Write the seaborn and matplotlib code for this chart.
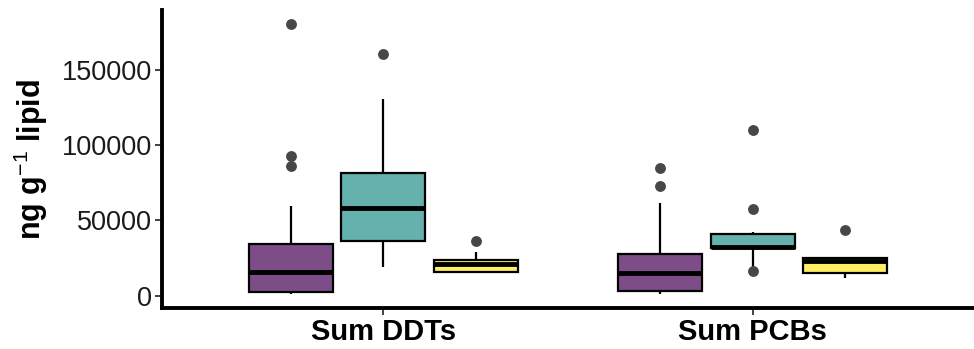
import matplotlib
matplotlib.use("Agg")
import matplotlib.pyplot as plt
import seaborn as sns
import pandas as pd
from matplotlib.ticker import FixedLocator, FuncFormatter

# ---- data ----
categories = ["Sum DDTs", "Sum PCBs"]
groups = ["A", "B", "C"]
colors = ["#7C4D87", "#64B1AE", "#FEEE66"]

ddt_a = [1100, 1500, 1900, 2200, 2400, 5200, 9800, 13000, 16100, 21000, 26500,
         30800, 34200, 59800, 86300, 92900, 180000]
ddt_b = [19000, 26000, 31500, 36400, 44000, 51000, 58500, 66000, 74000, 81600,
         102000, 130200, 160200]
ddt_c = [15000, 15400, 15800, 16100, 17500, 19300, 21000, 22000, 23000, 23800,
         26000, 29300, 36600]
pcb_a = [1300, 1800, 2400, 2900, 3300, 6500, 9800, 12800, 15400, 18500, 21600,
         24800, 27600, 38000, 61400, 72800, 84700]
pcb_b = [16600, 17500, 26000, 31500, 31800, 32100, 32400, 35000, 38500, 41000,
         42600, 57800, 109900]
pcb_c = [12100, 13500, 15000, 19000, 23200, 24200, 25000, 25400, 43700]

y_ticks = [0, 50000, 100000, 150000]
y_label = r"ng g$^{-1}$ lipid"

series = {
    ("Sum DDTs", "A"): ddt_a, ("Sum DDTs", "B"): ddt_b, ("Sum DDTs", "C"): ddt_c,
    ("Sum PCBs", "A"): pcb_a, ("Sum PCBs", "B"): pcb_b, ("Sum PCBs", "C"): pcb_c,
}
rows = []
for (cat, grp), vals in series.items():
    for v in vals:
        rows.append({"category": cat, "group": grp, "value": v})
df = pd.DataFrame(rows)

# ---- style ----
sns.set_theme(style="white")
plt.rcParams["font.family"] = ["Liberation Sans", "DejaVu Sans"]
plt.rcParams["mathtext.fontset"] = "custom"
plt.rcParams["mathtext.rm"] = "Liberation Sans"
plt.rcParams["mathtext.bf"] = "Liberation Sans:bold"

fig = plt.figure(figsize=(9.74, 3.49), dpi=100)
ax = fig.add_axes([162 / 974, 41 / 349, 1 - 162 / 974, 298 / 349])

sns.boxplot(
    data=df, x="category", y="value", hue="group",
    order=categories, hue_order=groups, palette=colors,
    width=0.75, gap=0.09, linewidth=1.6, linecolor="black",
    saturation=1, ax=ax, legend=False,
    medianprops=dict(linewidth=3.5, color="black"),
    flierprops=dict(marker="o", markersize=6.8, markerfacecolor="#474747",
                    markeredgecolor="#474747"),
    whiskerprops=dict(linewidth=1.6), capprops=dict(linewidth=0),
)

ax.set_xlim(-0.6, 1.6)
ax.set_ylim(-8000, 189500)
ax.yaxis.set_major_locator(FixedLocator(y_ticks))
ax.yaxis.set_major_formatter(FuncFormatter(lambda v, p: f"{int(v)}"))

for s in ["top", "right"]:
    ax.spines[s].set_visible(False)
for s in ["left", "bottom"]:
    ax.spines[s].set_linewidth(2.8)
    ax.spines[s].set_color("black")

ax.tick_params(axis="y", length=5, width=1.3, color="#333333", labelsize=19.5,
               labelcolor="#1a1a1a", pad=2, left=True)
ax.tick_params(axis="x", length=5, width=1.3, color="#333333", labelsize=21,
               labelcolor="black", pad=2, bottom=True)
for lab in ax.get_xticklabels():
    lab.set_fontweight("bold")

ax.set_xlabel("")
ax.set_ylabel(y_label, fontsize=22, fontweight="bold", color="black", labelpad=9)

fig.savefig("out.png", dpi=100)
